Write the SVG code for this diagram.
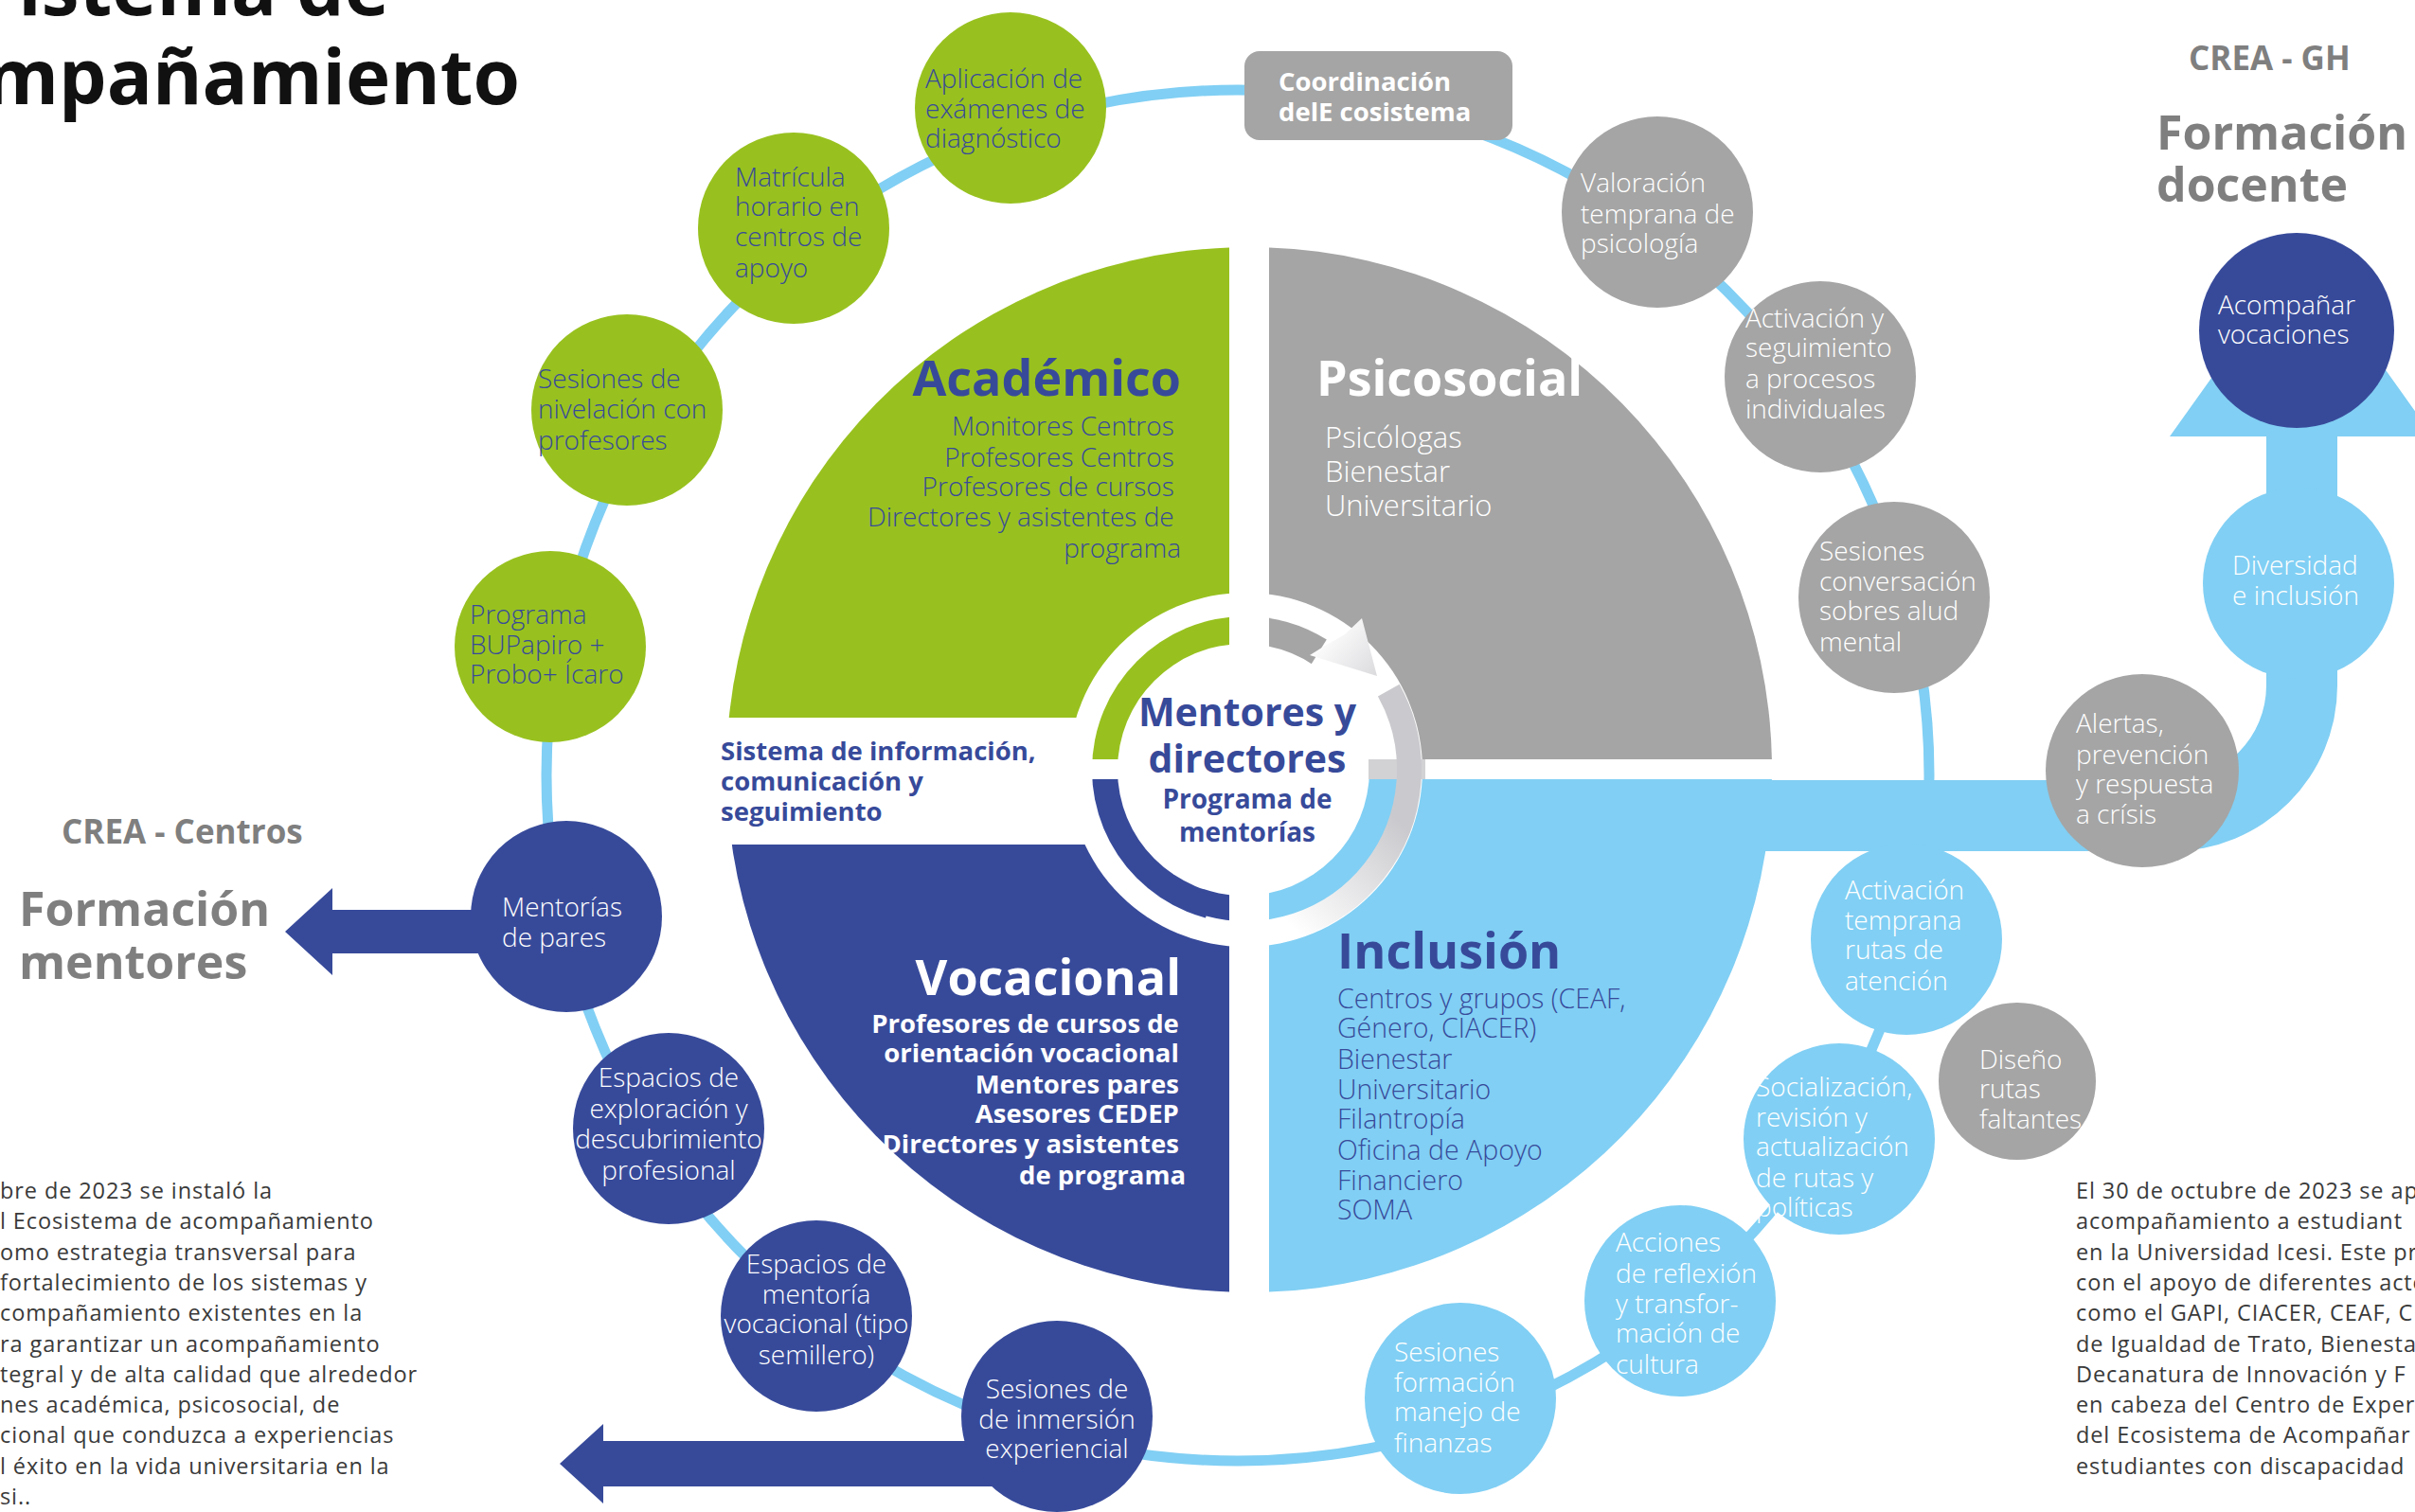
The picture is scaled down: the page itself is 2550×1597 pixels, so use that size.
<svg xmlns="http://www.w3.org/2000/svg" width="2550" height="1597" viewBox="0 0 2550 1597">
<defs>
<style>
text { font-family: "Open Sans", "Noto Sans", "Liberation Sans", sans-serif; }
.sat { font-size: 28px; font-weight: 300; }
.w { fill: #ffffff; }
.db { fill: #374A9A; }
.green { fill: #98C11F; }
.gray { fill: #A5A5A5; }
.blue { fill: #374A9A; }
.lblue { fill: #81CFF4; }
.title { font-weight: 700; fill: #7F7F7F; }
.big { font-size: 50px; }
.crea { font-size: 35px; }
.para { font-size: 23.5px; letter-spacing: 0.9px; fill: #3A3A3A; }
.qt { font-size: 52px; font-weight: 700; }
.ql { font-size: 28px; font-weight: 300; }
.qb { font-size: 27.5px; font-weight: 700; }
.ring { fill: none; stroke: #81CFF4; stroke-width: 11; }
</style>
<linearGradient id="bandGrad" gradientUnits="userSpaceOnUse" x1="1480" y1="870" x2="1370" y2="985">
<stop offset="0" stop-color="#CACACE"/>
<stop offset="1" stop-color="#FFFFFF"/>
</linearGradient>
<linearGradient id="headGrad" gradientUnits="userSpaceOnUse" x1="1400" y1="665" x2="1452" y2="712">
<stop offset="0" stop-color="#FFFFFF"/>
<stop offset="1" stop-color="#DCDCDF"/>
</linearGradient>
</defs>
<rect width="2550" height="1597" fill="#ffffff"/>

<g id="connectors">
<ellipse class="ring" cx="1307" cy="819" rx="730" ry="724"/>
</g>

<g id="titles">
<text x="411" y="16" text-anchor="end" style="font-size:80px;font-weight:700;fill:#111">istema de</text>
<text x="549" y="110" text-anchor="end" style="font-size:80px;font-weight:700;fill:#111">mpañamiento</text>
<text x="2311" y="74" class="title crea">CREA - GH</text>
<text x="2277" y="158" class="title big">Formación</text>
<text x="2277" y="213" class="title big">docente</text>
<text x="65" y="891" class="title crea">CREA - Centros</text>
<text x="20" y="978" class="title big">Formación</text>
<text x="20" y="1034" class="title big">mentores</text>
</g>

<g id="paragraph-left">
<text x="0" y="1266" class="para">bre de 2023 se instaló la</text>
<text x="0" y="1298" class="para">l Ecosistema de acompañamiento</text>
<text x="0" y="1331" class="para">omo estrategia transversal para</text>
<text x="0" y="1363" class="para">fortalecimiento de los sistemas y</text>
<text x="0" y="1395" class="para">compañamiento existentes en la</text>
<text x="0" y="1428" class="para">ra garantizar un acompañamiento</text>
<text x="0" y="1460" class="para">tegral y de alta calidad que alrededor</text>
<text x="0" y="1492" class="para">nes académica, psicosocial, de</text>
<text x="0" y="1524" class="para">cional que conduzca a experiencias</text>
<text x="0" y="1557" class="para">l éxito en la vida universitaria en la</text>
<text x="0" y="1589" class="para">si..</text>
</g>

<g id="paragraph-right">
<text x="2192" y="1266" class="para">El 30 de octubre de 2023 se ap</text>
<text x="2192" y="1298" class="para">acompañamiento a estudiant</text>
<text x="2192" y="1331" class="para">en la Universidad Icesi. Este pr</text>
<text x="2192" y="1363" class="para">con el apoyo de diferentes acto</text>
<text x="2192" y="1395" class="para">como el GAPI, CIACER, CEAF, C</text>
<text x="2192" y="1428" class="para">de Igualdad de Trato, Bienesta</text>
<text x="2192" y="1460" class="para">Decanatura de Innovación y F</text>
<text x="2192" y="1492" class="para">en cabeza del Centro de Exper</text>
<text x="2192" y="1524" class="para">del Ecosistema de Acompañar</text>
<text x="2192" y="1557" class="para">estudiantes con discapacidad</text>
</g>

<g id="arrow-mentores">
<path class="blue" d="M 600 961 L 351 961 L 351 938 L 301 984 L 351 1030 L 351 1007 L 600 1007 Z"/>
</g>
<g id="arrow-bottom">
<path class="blue" d="M 1116 1522 L 637 1522 L 637 1504 L 591 1546 L 637 1588 L 637 1570 L 1116 1570 Z"/>
</g>
<g id="arrow-inclusion">
<path class="lblue" d="M 1800 824 L 2293 824 A 100 100 0 0 0 2393 724 L 2393 461 L 2291 461 L 2430 266 L 2569 461 L 2468 461 L 2468 724 A 175 175 0 0 1 2293 899 L 1800 899 Z"/>
</g>

<g id="quadrant-academico">
<path class="green" d="M 1298 802 L 1298 261.4 A 552 552 0 0 0 767.1 802 Z"/>
<text x="1247" y="418" text-anchor="end" class="qt db">Académico</text>
<text text-anchor="end" class="ql db">
<tspan x="1247" y="460">Monitores Centros</tspan>
<tspan x="1247" y="493">Profesores Centros</tspan>
<tspan x="1247" y="524">Profesores de cursos</tspan>
<tspan x="1247" y="556">Directores y asistentes de</tspan>
<tspan x="1247" y="589">programa</tspan>
</text>
</g>
<g id="quadrant-psicosocial">
<path class="gray" d="M 1340 802 L 1340 261.4 A 552 552 0 0 1 1870.9 802 Z"/>
<text x="1390" y="418" class="qt w">Psicosocial</text>
<text class="w" style="font-size:31px;font-weight:300">
<tspan x="1399" y="473">Psicólogas</tspan>
<tspan x="1399" y="509">Bienestar</tspan>
<tspan x="1399" y="545">Universitario</tspan>
</text>
</g>
<g id="quadrant-vocacional">
<path class="blue" d="M 1298 823 L 767.1 823 A 552 552 0 0 0 1298 1364.6 Z"/>
<text x="1247" y="1051" text-anchor="end" class="qt w">Vocacional</text>
<text text-anchor="end" class="qb w">
<tspan x="1252" y="1091">Profesores de cursos de</tspan>
<tspan x="1252" y="1122">orientación vocacional</tspan>
<tspan x="1252" y="1155">Mentores pares</tspan>
<tspan x="1252" y="1186">Asesores CEDEP</tspan>
<tspan x="1252" y="1218">Directores y asistentes</tspan>
<tspan x="1252" y="1251">de programa</tspan>
</text>
</g>
<g id="quadrant-inclusion">
<path class="lblue" d="M 1340 823 L 1340 1364.6 A 552 552 0 0 0 1870.9 823 Z"/>
<text x="1412" y="1023" class="qt db">Inclusión</text>
<text class="db" style="font-size:28.5px;font-weight:300">
<tspan x="1412" y="1065">Centros y grupos (CEAF,</tspan>
<tspan x="1412" y="1096">Género, CIACER)</tspan>
<tspan x="1412" y="1129">Bienestar</tspan>
<tspan x="1412" y="1161">Universitario</tspan>
<tspan x="1412" y="1192">Filantropía</tspan>
<tspan x="1412" y="1225">Oficina  de Apoyo</tspan>
<tspan x="1412" y="1257">Financiero</tspan>
<tspan x="1412" y="1288">SOMA</tspan>
</text>
</g>

<g id="sistema-informacion">
<rect x="740" y="758" width="420" height="134" fill="#ffffff"/>
<text class="qb db">
<tspan x="761" y="803">Sistema de información,</tspan>
<tspan x="761" y="835">comunicación y</tspan>
<tspan x="761" y="867">seguimiento</tspan>
</text>
</g>

<g id="center">
<circle cx="1315" cy="813" r="187" fill="#ffffff"/>
<path class="green" d="M 1315 813 L 1153 813 A 162 162 0 0 1 1315 651 Z"/>
<path class="gray" d="M 1315 813 L 1315 651 A 162 162 0 0 1 1400.8 675.6 Z"/>
<path class="blue" d="M 1315 813 L 1315 975 A 162 162 0 0 1 1153 813 Z"/>
<path class="lblue" d="M 1315 813 L 1477 813 A 162 162 0 0 1 1315 975 Z"/>
<rect x="1298" y="620" width="42" height="390" fill="#ffffff"/>
<rect x="1120" y="802" width="390" height="21" fill="#ffffff"/>
<circle cx="1313" cy="813" r="133" fill="#ffffff"/>
<rect x="1445" y="802" width="60" height="21" fill="#D2D2D5"/>
<path d="M 1466.3 729.1 A 173 173 0 0 1 1270.2 980.1" fill="none" stroke="url(#bandGrad)" stroke-width="26"/>
<polygon points="1438,653 1454,714 1383,692 1399,682 1420,670" fill="url(#headGrad)"/>
<text x="1317" y="767" text-anchor="middle" class="db" style="font-size:41px;font-weight:700">Mentores y</text>
<text x="1317" y="816" text-anchor="middle" class="db" style="font-size:41px;font-weight:700">directores</text>
<text x="1317" y="854" text-anchor="middle" class="db" style="font-size:28px;font-weight:700">Programa de</text>
<text x="1317" y="889" text-anchor="middle" class="db" style="font-size:28px;font-weight:700">mentorías</text>
</g>

<g id="coordinacion">
<rect x="1314" y="54" width="283" height="94" rx="16" class="gray"/>
<text class="w" style="font-size:27.5px;font-weight:700">
<tspan x="1350" y="96">Coordinación</tspan>
<tspan x="1350" y="128">delE cosistema</tspan>
</text>
</g>

<g id="n-aplicacion">
<circle cx="1067" cy="114" r="101" class="green"/>
<text class="sat db"><tspan x="977" y="93">Aplicación de</tspan><tspan x="977" y="125">exámenes de</tspan><tspan x="977" y="156">diagnóstico</tspan></text>
</g>
<g id="n-matricula">
<circle cx="838" cy="241" r="101" class="green"/>
<text class="sat db"><tspan x="776" y="197">Matrícula</tspan><tspan x="776" y="228">horario en</tspan><tspan x="776" y="260">centros de</tspan><tspan x="776" y="293">apoyo</tspan></text>
</g>
<g id="n-nivelacion">
<circle cx="662" cy="433" r="101" class="green"/>
<text class="sat db"><tspan x="568" y="410">Sesiones de</tspan><tspan x="568" y="442">nivelación con</tspan><tspan x="568" y="475">profesores</tspan></text>
</g>
<g id="n-programa">
<circle cx="581" cy="683" r="101" class="green"/>
<text class="sat db"><tspan x="496" y="659">Programa</tspan><tspan x="496" y="691">BUPapiro +</tspan><tspan x="496" y="722">Probo+  Ícaro</tspan></text>
</g>
<g id="n-mentorias">
<circle cx="598" cy="968" r="101" class="blue"/>
<text class="sat w"><tspan x="530" y="968">Mentorías</tspan><tspan x="530" y="1000">de pares</tspan></text>
</g>
<g id="n-exploracion">
<circle cx="706" cy="1192" r="101" class="blue"/>
<text class="sat w" text-anchor="middle"><tspan x="706" y="1148">Espacios de</tspan><tspan x="706" y="1181">exploración y</tspan><tspan x="706" y="1213">descubrimiento</tspan><tspan x="706" y="1246">profesional</tspan></text>
</g>
<g id="n-mentoria-vocacional">
<circle cx="862" cy="1390" r="101" class="blue"/>
<text class="sat w" text-anchor="middle"><tspan x="862" y="1345">Espacios de</tspan><tspan x="862" y="1377">mentoría</tspan><tspan x="862" y="1408">vocacional (tipo</tspan><tspan x="862" y="1441">semillero)</tspan></text>
</g>
<g id="n-inmersion">
<circle cx="1116" cy="1496" r="101" class="blue"/>
<text class="sat w" text-anchor="middle"><tspan x="1116" y="1477">Sesiones de</tspan><tspan x="1116" y="1509">de inmersión</tspan><tspan x="1116" y="1540">experiencial</tspan></text>
</g>
<g id="n-finanzas">
<circle cx="1542" cy="1477" r="101" class="lblue"/>
<text class="sat w"><tspan x="1472" y="1438">Sesiones</tspan><tspan x="1472" y="1470">formación</tspan><tspan x="1472" y="1501">manejo de</tspan><tspan x="1472" y="1534">finanzas</tspan></text>
</g>
<g id="n-acciones">
<circle cx="1774" cy="1374" r="101" class="lblue"/>
<text class="sat w"><tspan x="1706" y="1322">Acciones</tspan><tspan x="1706" y="1355">de reflexión</tspan><tspan x="1706" y="1387">y transfor-</tspan><tspan x="1706" y="1418">mación de</tspan><tspan x="1706" y="1451">cultura</tspan></text>
</g>
<g id="n-socializacion">
<circle cx="1942" cy="1203" r="101" class="lblue"/>
<text class="sat w"><tspan x="1854" y="1158">Socialización,</tspan><tspan x="1854" y="1190">revisión y</tspan><tspan x="1854" y="1221">actualización</tspan><tspan x="1854" y="1254">de rutas y</tspan><tspan x="1854" y="1285">políticas</tspan></text>
</g>
<g id="n-activacion-temprana">
<circle cx="2013" cy="992" r="101" class="lblue"/>
<text class="sat w"><tspan x="1948" y="950">Activación</tspan><tspan x="1948" y="982">temprana</tspan><tspan x="1948" y="1013">rutas de</tspan><tspan x="1948" y="1046">atención</tspan></text>
</g>
<g id="n-diseno">
<circle cx="2130" cy="1142" r="83" class="gray"/>
<text class="sat w"><tspan x="2090" y="1129">Diseño</tspan><tspan x="2090" y="1160">rutas</tspan><tspan x="2090" y="1192">faltantes</tspan></text>
</g>
<g id="n-alertas">
<circle cx="2262" cy="814" r="102" class="gray"/>
<text class="sat w"><tspan x="2192" y="774">Alertas,</tspan><tspan x="2192" y="807">prevención</tspan><tspan x="2192" y="838">y respuesta</tspan><tspan x="2192" y="870">a crísis</tspan></text>
</g>
<g id="n-salud-mental">
<circle cx="2000" cy="631" r="101" class="gray"/>
<text class="sat w"><tspan x="1921" y="592">Sesiones</tspan><tspan x="1921" y="624">conversación</tspan><tspan x="1921" y="655">sobres alud</tspan><tspan x="1921" y="688">mental</tspan></text>
</g>
<g id="n-seguimiento">
<circle cx="1922" cy="398" r="101" class="gray"/>
<text class="sat w"><tspan x="1843" y="346">Activación y</tspan><tspan x="1843" y="377">seguimiento</tspan><tspan x="1843" y="410">a procesos</tspan><tspan x="1843" y="442">individuales</tspan></text>
</g>
<g id="n-valoracion">
<circle cx="1750" cy="224" r="101" class="gray"/>
<text class="sat w"><tspan x="1669" y="203">Valoración</tspan><tspan x="1669" y="236">temprana de</tspan><tspan x="1669" y="267">psicología</tspan></text>
</g>
<g id="n-diversidad">
<circle cx="2427" cy="616" r="101" class="lblue"/>
<text class="sat w"><tspan x="2357" y="607">Diversidad</tspan><tspan x="2357" y="639">e inclusión</tspan></text>
</g>
<g id="n-acompanar">
<circle cx="2425" cy="349" r="103" class="blue"/>
<text class="sat w"><tspan x="2342" y="332">Acompañar</tspan><tspan x="2342" y="363">vocaciones</tspan></text>
</g>
</svg>
